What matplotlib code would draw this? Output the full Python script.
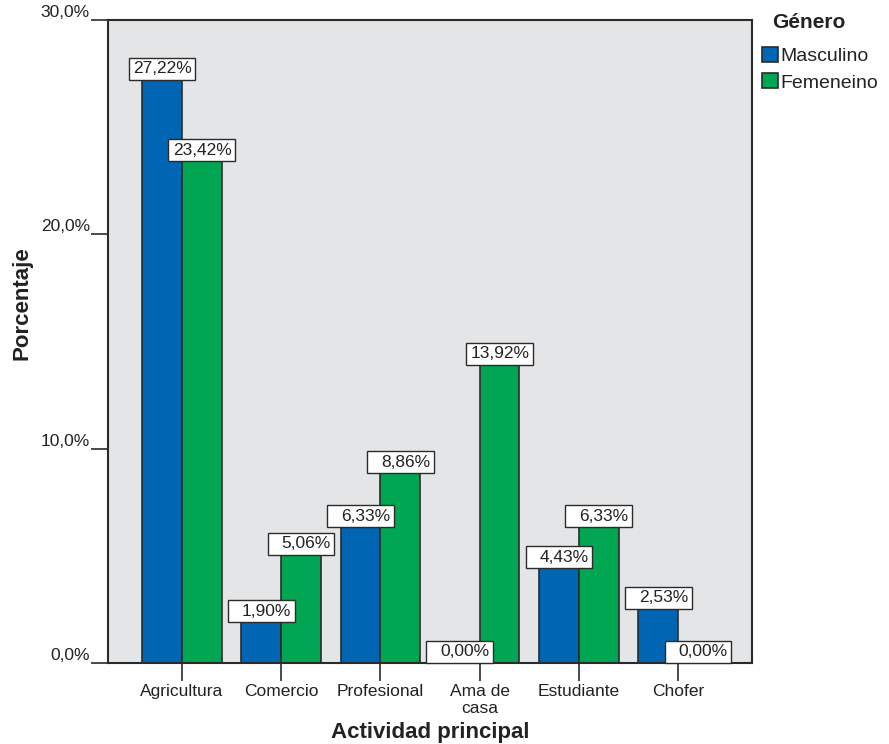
import matplotlib
matplotlib.use("Agg")
import matplotlib.pyplot as plt
from matplotlib.patches import Rectangle

plt.rcParams['font.family'] = ['Liberation Sans', 'DejaVu Sans']

categories = ["Agricultura", "Comercio", "Profesional", "Ama de\ncasa", "Estudiante", "Chofer"]
masculino = [27.22, 1.90, 6.33, 0.00, 4.43, 2.53]
femenino = [23.42, 5.06, 8.86, 13.92, 6.33, 0.00]
series_names = ["Masculino", "Femeneino"]
y_ticks = [0, 10, 20, 30]
y_tick_labels = ["0,0%", "10,0%", "20,0%", "30,0%"]

blue = "#0066B3"
green = "#00A651"
edge = "#2b2b2b"
text_col = "#222222"

W, H = 889, 744
fig = plt.figure(figsize=(W / 100, H / 100), dpi=100)
ax = fig.add_axes([108 / W, 1 - 663 / H, (752 - 108) / W, (663 - 20) / H])
ax.set_facecolor("#E4E5E7")

w = 0.40
x = range(len(categories))
b1 = ax.bar([i - w / 2 for i in x], masculino, w, color=blue, edgecolor=edge, linewidth=1.2,
            label=series_names[0], zorder=2)
b2 = ax.bar([i + w / 2 for i in x], femenino, w, color=green, edgecolor=edge, linewidth=1.2,
            label=series_names[1], zorder=2)

ax.set_xlim(-0.745, 5.745)
ax.set_ylim(0, 30)

# value boxes sitting on top of each bar, text right-aligned inside
box_w = 0.673
box_h = 30 / 643 * 22
for vals, off in ((masculino, -w / 2), (femenino, w / 2)):
    for i, v in enumerate(vals):
        cx = i + off
        ax.add_patch(Rectangle((cx - box_w / 2, v), box_w, box_h, facecolor="white",
                               edgecolor=edge, linewidth=1.0, zorder=4, clip_on=False))
        label = f"{v:.2f}".replace(".", ",") + "%"
        ax.text(cx + box_w / 2 - 0.035, v + box_h / 2, label, ha="right", va="center",
                fontsize=12.5, color=text_col, zorder=5)

for s in ax.spines.values():
    s.set_color(edge)
    s.set_linewidth(1.5)

ax.set_yticks(y_ticks)
ax.set_yticklabels(y_tick_labels, fontsize=12.5, color=text_col)
for lbl in ax.get_yticklabels():
    lbl.set_verticalalignment("bottom")
ax.tick_params(axis="y", direction="out", length=12, width=1.2, color=edge, pad=1)

ax.set_xticks(list(x))
ax.set_xticklabels(categories, fontsize=12.5, color=text_col, linespacing=1.2)
ax.tick_params(axis="x", direction="out", length=13, width=1.2, color=edge, pad=2)

ax.set_xlabel("Actividad principal", fontsize=16, fontweight="bold", color=text_col)
ax.xaxis.set_label_coords(0.5, -(743 - 663) / 644)
ax.xaxis.label.set_verticalalignment("bottom")
ax.set_ylabel("Porcentaje", fontsize=16, fontweight="bold", color=text_col)
ax.yaxis.set_label_coords((33 - 108) / 644, 0.56)

# legend: title drawn on its own, entries below
fig.text(772 / W, 1 - 22 / H, "Género", fontsize=15, fontweight="bold", color=text_col,
         ha="left", va="center")
leg = fig.legend(handles=[b1, b2], loc="upper left",
                 bbox_to_anchor=(762 / W, 1 - 47 / H), frameon=False, fontsize=14,
                 handlelength=0.8, handleheight=0.8, handletextpad=0.12,
                 labelspacing=0.42, borderpad=0.0, borderaxespad=0.0)
for t in leg.get_texts():
    t.set_color(text_col)

fig.savefig("out.png", dpi=100, facecolor="white")
